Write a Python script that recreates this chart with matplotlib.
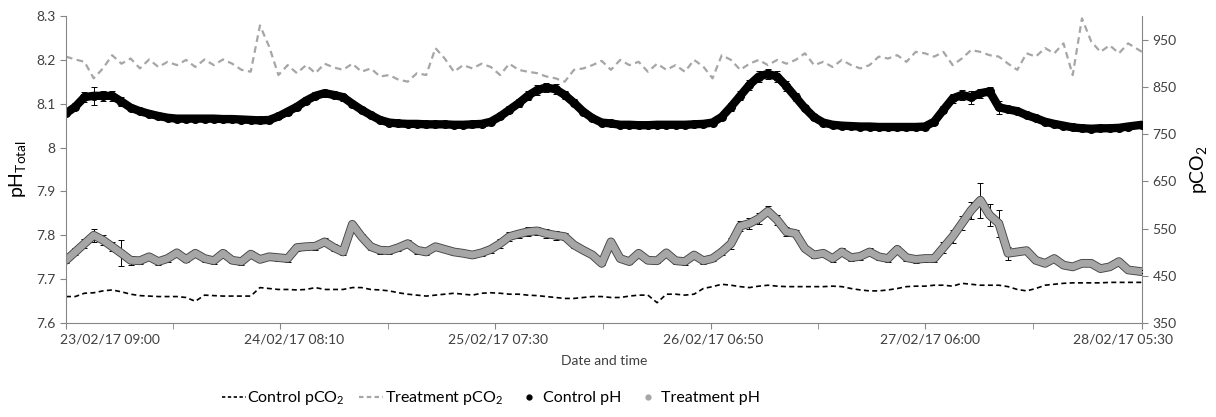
import pandas as pd
import matplotlib
matplotlib.use("Agg")
from matplotlib import pyplot as plt
from matplotlib.lines import Line2D
import matplotlib.patheffects as pe
import matplotlib.transforms as mtransforms

plt.rcParams['font.family'] = ['Lato', 'DejaVu Sans']
plt.rcParams['mathtext.fontset'] = 'custom'
plt.rcParams['mathtext.rm'] = 'Lato'
plt.rcParams['mathtext.it'] = 'Lato:italic'

# hourly readings from 23/02/17 09:00, last one at 28/02/17 05:30
start_time = "2017-02-23 09:00"
end_time = "2017-02-28 05:30"
tick_labels = ["23/02/17 09:00", "24/02/17 08:10", "25/02/17 07:30",
               "26/02/17 06:50", "27/02/17 06:00", "28/02/17 05:30"]

ctrl_ph = [8.078, 8.093, 8.115, 8.118, 8.118, 8.118, 8.105, 8.091, 8.083, 8.077,
           8.072, 8.068, 8.066, 8.066, 8.066, 8.066, 8.066, 8.065, 8.065, 8.064,
           8.063, 8.062, 8.063, 8.071, 8.082, 8.093, 8.107, 8.118, 8.124, 8.120,
           8.115, 8.100, 8.086, 8.074, 8.063, 8.057, 8.055, 8.054, 8.054, 8.053,
           8.053, 8.053, 8.052, 8.052, 8.053, 8.054, 8.059, 8.071, 8.086, 8.101,
           8.118, 8.131, 8.137, 8.133, 8.120, 8.102, 8.082, 8.067, 8.057, 8.055,
           8.052, 8.052, 8.051, 8.051, 8.052, 8.052, 8.052, 8.052, 8.053, 8.054,
           8.057, 8.070, 8.093, 8.118, 8.143, 8.162, 8.168, 8.162, 8.140, 8.115,
           8.090, 8.069, 8.057, 8.052, 8.050, 8.049, 8.048, 8.048, 8.047, 8.047,
           8.047, 8.047, 8.047, 8.048, 8.059, 8.086, 8.112, 8.120, 8.115, 8.124,
           8.128, 8.092, 8.087, 8.083, 8.074, 8.067, 8.059, 8.054, 8.050, 8.046,
           8.044, 8.043, 8.044, 8.044, 8.045, 8.048, 8.052]
ctrl_ph_err = [.004, .008, .012, .020, .012, .012, .010, .006, .004, .003,
               .003, .003, .003, .003, .003, .003, .003, .003, .003, .003,
               .003, .003, .004, .006, .008, .008, .008, .008, .008, .008,
               .008, .007, .006, .004, .003, .003, .003, .003, .003, .003,
               .003, .003, .003, .003, .003, .003, .004, .006, .008, .009,
               .010, .011, .011, .011, .010, .008, .006, .004, .003, .003,
               .003, .003, .003, .003, .003, .003, .003, .003, .003, .003,
               .004, .007, .009, .010, .011, .012, .012, .012, .011, .009,
               .007, .005, .004, .003, .003, .003, .003, .003, .003, .003,
               .003, .003, .003, .003, .004, .008, .010, .012, .015, .010,
               .010, .015, .006, .005, .004, .003, .003, .003, .003, .003,
               .003, .003, .003, .003, .003, .003, .003]

trt_ph = [7.743, 7.762, 7.781, 7.800, 7.789, 7.774, 7.759, 7.743, 7.742, 7.751,
          7.740, 7.747, 7.760, 7.745, 7.759, 7.747, 7.742, 7.759, 7.743, 7.740,
          7.757, 7.745, 7.751, 7.749, 7.747, 7.772, 7.774, 7.775, 7.785, 7.772,
          7.762, 7.825, 7.797, 7.774, 7.766, 7.765, 7.772, 7.781, 7.766, 7.762,
          7.774, 7.768, 7.762, 7.759, 7.755, 7.760, 7.768, 7.781, 7.797, 7.803,
          7.808, 7.810, 7.804, 7.800, 7.797, 7.778, 7.766, 7.755, 7.736, 7.785,
          7.747, 7.740, 7.759, 7.743, 7.742, 7.760, 7.742, 7.740, 7.755, 7.742,
          7.747, 7.762, 7.781, 7.821, 7.827, 7.838, 7.855, 7.835, 7.808, 7.804,
          7.770, 7.755, 7.759, 7.747, 7.762, 7.749, 7.752, 7.762, 7.751, 7.747,
          7.768, 7.749, 7.745, 7.747, 7.747, 7.772, 7.797, 7.827, 7.857, 7.880,
          7.846, 7.827, 7.759, 7.762, 7.765, 7.743, 7.736, 7.747, 7.732, 7.728,
          7.736, 7.736, 7.724, 7.728, 7.740, 7.721, 7.717]
trt_ph_err = [.006, .008, .010, .015, .012, .010, .030, .010, .008, .007,
              .007, .007, .007, .007, .007, .007, .007, .007, .007, .007,
              .007, .007, .007, .007, .007, .008, .008, .008, .008, .008,
              .006, .004, .005, .007, .008, .008, .008, .008, .008, .008,
              .007, .007, .006, .006, .006, .007, .008, .010, .010, .010,
              .010, .010, .010, .010, .008, .006, .005, .004, .004, .004,
              .004, .005, .006, .006, .006, .006, .007, .007, .007, .007,
              .006, .008, .012, .012, .012, .012, .012, .012, .010, .008,
              .006, .006, .007, .007, .008, .008, .008, .008, .008, .008,
              .008, .008, .008, .008, .008, .012, .014, .016, .020, .040,
              .025, .030, .015, .004, .003, .003, .003, .003, .003, .003,
              .003, .003, .003, .003, .003, .003, .003]

ctrl_pco2 = [406, 406, 413, 414, 418, 420, 416, 411, 408, 407,
             406, 406, 406, 404, 396, 409, 408, 407, 407, 407,
             407, 425, 423, 421, 421, 420, 421, 425, 421, 421,
             421, 425, 425, 421, 420, 418, 414, 411, 409, 407,
             409, 411, 413, 411, 409, 413, 414, 413, 411, 411,
             409, 408, 406, 404, 402, 402, 404, 406, 406, 404,
             404, 407, 409, 409, 393, 411, 411, 409, 411, 423,
             427, 432, 430, 427, 425, 428, 430, 428, 427, 427,
             427, 427, 427, 428, 427, 423, 420, 418, 418, 420,
             423, 427, 428, 428, 430, 430, 428, 434, 432, 430,
             430, 430, 427, 421, 418, 423, 430, 432, 434, 435,
             435, 435, 435, 436, 436, 436, 436]

trt_pco2 = [914, 908, 903, 868, 889, 917, 899, 910, 889, 908,
            892, 903, 896, 907, 892, 908, 896, 908, 899, 886,
            882, 980, 935, 875, 896, 879, 896, 879, 899, 891,
            886, 899, 882, 889, 872, 875, 865, 861, 879, 875,
            932, 910, 882, 896, 889, 899, 892, 875, 899, 886,
            882, 879, 872, 868, 861, 886, 889, 896, 905, 886,
            907, 896, 903, 882, 899, 886, 896, 882, 907, 893,
            868, 917, 907, 886, 899, 907, 896, 907, 899, 907,
            921, 896, 903, 892, 907, 896, 889, 896, 914, 910,
            917, 903, 924, 921, 914, 924, 896, 910, 928, 924,
            917, 914, 899, 886, 921, 914, 932, 921, 942, 875,
            995, 946, 924, 938, 921, 942, 924]

times = list(pd.date_range(start_time, periods=len(ctrl_ph) - 1, freq="h"))
times.append(pd.Timestamp(end_time))
tick_times = [pd.to_datetime(s, format="%d/%m/%y %H:%M") for s in tick_labels]
minor_times = [tick_times[i] + (tick_times[i + 1] - tick_times[i]) / 2 for i in range(len(tick_times) - 1)]

axis_col = '#868686'
text_col = '#404040'
grey = '#a6a6a6'

fig = plt.figure(figsize=(12.16, 4.17), dpi=100)
ax = fig.add_axes([66 / 1216, 1 - 323 / 417, (1142 - 66) / 1216, (323 - 16) / 417])
ax2 = ax.twinx()

# pCO2 on the right axis
ax2.plot(times, trt_pco2, color=grey, lw=1.6, dashes=(3, 2))
ax2.plot(times, ctrl_pco2, color='black', lw=1.2, dashes=(3, 2))
ax2.set_ylim(350, 1000)
ax2.set_yticks([350, 450, 550, 650, 750, 850, 950])

# pH on the left axis
ax.errorbar(times, ctrl_ph, yerr=ctrl_ph_err, fmt='none', ecolor='black', elinewidth=0.7, capsize=2, capthick=0.7)
ax.plot(times, ctrl_ph, color='black', lw=6, marker='o', ms=5.5, solid_capstyle='round')
ax.errorbar(times, trt_ph, yerr=trt_ph_err, fmt='none', ecolor='black', elinewidth=0.7, capsize=2, capthick=0.7)
ax.plot(times, trt_ph, color=grey, lw=5, solid_capstyle='round',
        path_effects=[pe.Stroke(linewidth=6.3, foreground='#454545'), pe.Normal()])
ax.set_ylim(7.6, 8.3)
ax.set_yticks([7.6, 7.7, 7.8, 7.9, 8.0, 8.1, 8.2, 8.3])
ax.set_yticklabels(['7.6', '7.7', '7.8', '7.9', '8', '8.1', '8.2', '8.3'])

ax.set_zorder(ax2.get_zorder() + 1)
ax.patch.set_visible(False)

ax.set_xlim(tick_times[0], tick_times[-1])
ax.set_xticks(tick_times)
ax.set_xticklabels(tick_labels)
ax.set_xticks(minor_times, minor=True)

for a in (ax, ax2):
    a.spines['top'].set_visible(False)
    for side in ('left', 'right', 'bottom'):
        a.spines[side].set_color(axis_col)
    a.tick_params(which='both', color=axis_col, labelcolor=text_col, labelsize=10, length=4)
ax2.spines['left'].set_visible(False)
ax2.spines['bottom'].set_visible(False)
ax.spines['right'].set_visible(False)

# Excel nudges the date labels sideways a little
label_shift_px = [44, 14, 3, 2, 5, -19]
for lab, dx in zip(ax.get_xticklabels(), label_shift_px):
    lab.set_transform(lab.get_transform() + mtransforms.ScaledTranslation(dx / 100, 0, fig.dpi_scale_trans))

ax.set_ylabel(r'pH$_{\mathrm{Total}}$', fontsize=14, color='black', labelpad=6)
ax2.set_ylabel(r'pCO$_{2}$', fontsize=14, color='black', labelpad=8)
ax.set_xlabel('Date and time', fontsize=10, color=text_col, labelpad=7)

handles = [Line2D([], [], color='black', lw=1.2, dashes=(2, 1.5)),
           Line2D([], [], color=grey, lw=1.6, dashes=(2, 1.5)),
           Line2D([], [], color='black', marker='o', ms=3.5, lw=0),
           Line2D([], [], color=grey, marker='o', ms=3.5, lw=0)]
labels = [r'Control pCO$_{2}$', r'Treatment pCO$_{2}$', 'Control pH', 'Treatment pH']
fig.legend(handles, labels, loc='center', bbox_to_anchor=(491 / 1216, 0.045), ncol=4, frameon=False,
           fontsize=11.5, handlelength=1.5, handletextpad=0.1, columnspacing=0.9, labelcolor='black')

fig.savefig('out.png', dpi=100)
